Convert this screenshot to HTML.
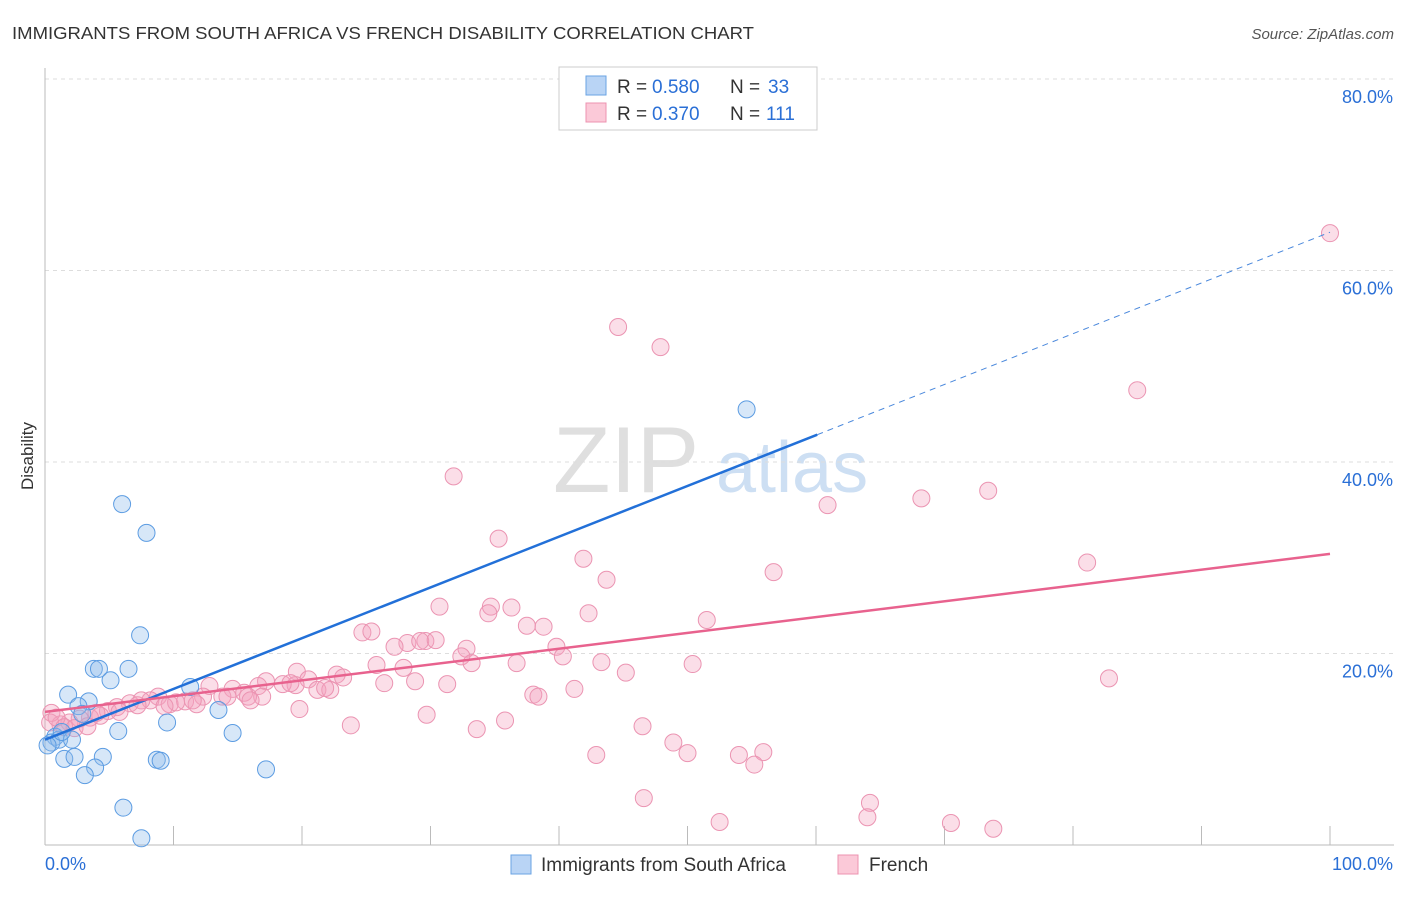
<!DOCTYPE html>
<html><head><meta charset="utf-8"><style>
body{margin:0;background:#fff;font-family:"Liberation Sans",sans-serif}
svg text{font-family:"Liberation Sans",sans-serif}
</style></head><body>
<svg id="c" width="1406" height="892">
<text x="12" y="39" font-size="17.5" fill="#333" textLength="742" lengthAdjust="spacingAndGlyphs">IMMIGRANTS FROM SOUTH AFRICA VS FRENCH DISABILITY CORRELATION CHART</text>
<text x="1394" y="39" font-size="15" fill="#555" font-style="italic" text-anchor="end">Source: ZipAtlas.com</text>
<text x="33" y="456" font-size="17" fill="#333" text-anchor="middle" transform="rotate(-90 33 456)">Disability</text>
<g opacity="0.9">
<text x="553" y="492" font-size="94" font-family="Liberation Serif,serif" fill="#dcdcdc">ZIP</text>
<text x="716" y="492" font-size="72" fill="#c8dcf2">atlas</text>
</g>
<g id="grid"></g><g id="marks"></g>
<g>
<rect x="559" y="67" width="258" height="63" fill="#fff" stroke="#ccc"/>
<rect x="586" y="76" width="20" height="19" fill="#b9d4f5" stroke="#6aa3e3"/>
<rect x="586" y="103" width="20" height="19" fill="#fbc9d8" stroke="#ec93b0"/>
<text x="617" y="93" font-size="19" fill="#333">R =</text>
<text x="652" y="93" font-size="19" fill="#2a6fd6">0.580</text>
<text x="730" y="93" font-size="19" fill="#333">N =</text>
<text x="768" y="93" font-size="19" fill="#2a6fd6">33</text>
<text x="617" y="120" font-size="19" fill="#333">R =</text>
<text x="652" y="120" font-size="19" fill="#2a6fd6">0.370</text>
<text x="730" y="120" font-size="19" fill="#333">N =</text>
<text x="766" y="120" font-size="19" fill="#2a6fd6">111</text>
</g>
<g>
<rect x="511" y="855" width="20" height="19" fill="#b9d4f5" stroke="#6aa3e3"/>
<text x="541" y="871" font-size="19" fill="#333">Immigrants from South Africa</text>
<rect x="838" y="855" width="20" height="19" fill="#fbc9d8" stroke="#ec93b0"/>
<text x="869" y="871" font-size="19" fill="#333">French</text>
</g>
</svg>
<script>
const yTicks=[20,40,60,80];
const yTickLabels=["20.0%","40.0%","60.0%","80.0%"];
const xTickLabels=["0.0%","100.0%"];
const blueX=[6.0,7.9,7.4,3.8,4.2,6.5,5.1,1.8,3.4,2.6,2.9,11.3,13.5,9.5,5.7,14.6,0.8,0.5,1.1,2.1,1.5,2.3,4.5,3.9,3.1,8.7,9.0,17.2,6.1,7.5,54.6,0.2,1.3];
const blueY=[35.6,32.6,21.9,18.4,18.4,18.4,17.2,15.7,15.0,14.5,13.7,16.5,14.1,12.8,11.9,11.7,11.3,10.7,11.0,11.0,9.0,9.2,9.2,8.1,7.3,8.9,8.8,7.9,3.9,0.7,45.5,10.4,11.8];
const pinkX=[100,44.6,47.9,85.0,31.8,60.9,68.2,73.4,35.3,41.9,43.7,56.7,81.1,30.7,34.7,34.5,36.3,42.3,51.5,37.5,38.8,24.7,25.4,28.2,29.6,27.2,29.2,30.4,32.8,39.8,32.4,33.2,40.3,36.7,43.3,50.4,82.8,45.2,25.8,27.9,19.6,22.7,23.2,20.5,17.2,19.5,18.5,16.6,14.6,12.8,13.8,21.2,22.2,15.5,16.9,12.3,31.3,28.8,26.4,41.2,38.0,38.4,19.8,29.7,35.8,23.8,33.6,46.5,42.9,48.9,50.0,55.9,54.0,55.2,46.6,64.2,52.5,64.0,70.5,73.8,8.8,8.2,6.6,7.5,9.7,10.9,11.8,10.2,9.3,5.6,4.9,4.3,3.5,2.7,1.9,1.2,0.5,0.4,0.9,1.5,2.3,3.3,4.0,5.8,7.2,11.5,15.8,14.2,19.1,21.8,16.0];
const pinkY=[63.9,54.1,52.0,47.5,38.5,35.5,36.2,37.0,32.0,29.9,27.7,28.5,29.5,24.9,24.9,24.2,24.8,24.2,23.5,22.9,22.8,22.2,22.3,21.1,21.3,20.7,21.3,21.4,20.5,20.7,19.7,19.0,19.7,19.0,19.1,18.9,17.4,18.0,18.8,18.5,18.1,17.8,17.5,17.3,17.1,16.7,16.8,16.6,16.3,16.6,15.5,16.2,16.2,15.9,15.5,15.5,16.8,17.1,16.9,16.3,15.7,15.5,14.2,13.6,13.0,12.5,12.1,12.4,9.4,10.7,9.6,9.7,9.4,8.4,4.9,4.4,2.4,2.9,2.3,1.7,15.5,15.1,14.8,15.1,14.7,15.0,14.7,14.9,14.5,14.4,14.0,13.5,13.3,13.2,12.8,12.6,13.8,12.8,13.3,12.3,12.2,12.4,13.8,13.9,14.6,15.1,15.5,15.5,16.9,16.4,15.1];
const blueTrend=[11.0,0.53];   // intercept, slope
const blueSolidEnd=60.1;
const pinkTrend=[13.9,0.165];
const NS="http://www.w3.org/2000/svg";
const X=v=>45+v*12.85, Y=v=>845-v*9.575;
function mk(t,a,p){const e=document.createElementNS(NS,t);for(const k in a)e.setAttribute(k,a[k]);p.appendChild(e);return e;}
const g=document.getElementById('grid'), m=document.getElementById('marks');
yTicks.forEach((t,i)=>{
 const l=mk('line',{x1:45,x2:1394,y1:Y(t),y2:Y(t),stroke:'#ddd','stroke-dasharray':'4,4'},g);
 
 
 const tx=mk('text',{x:1393,y:Y(t)+24,'font-size':18,fill:'#2a6fd6','text-anchor':'end'},g);tx.textContent=yTickLabels[i];
 
 
});
const ax=mk('line',{x1:45,x2:45,y1:68,y2:845,stroke:'#bbb'},g);


const bx=mk('line',{x1:45,x2:1394,y1:845,y2:845,stroke:'#bbb'},g);


for(let i=1;i<=10;i++){const t=mk('line',{x1:X(i*10),x2:X(i*10),y1:826,y2:845,stroke:'#bbb'},g);
 
 }
[[0,45,'start'],[100,1393,'end']].forEach(([v,x,a],i)=>{const t=mk('text',{x:x,y:870,'font-size':18,fill:'#2a6fd6','text-anchor':a},g);t.textContent=xTickLabels[i];
 
 });
pinkX.forEach((v,i)=>{const c=mk('circle',{cx:X(v),cy:Y(pinkY[i]),r:8.5,fill:'rgba(244,160,188,0.35)',stroke:'#eb94b2','stroke-width':1},m);
 
 });
blueX.forEach((v,i)=>{const c=mk('circle',{cx:X(v),cy:Y(blueY[i]),r:8.5,fill:'rgba(140,185,235,0.35)',stroke:'#5c9ce2','stroke-width':1},m);
 
 });
const f=(t,x)=>t[0]+t[1]*x;
let l=mk('line',{x1:X(0),y1:Y(f(blueTrend,0)),x2:X(blueSolidEnd),y2:Y(f(blueTrend,blueSolidEnd)),stroke:'#2270d8','stroke-width':2.5},m);


l=mk('line',{x1:X(blueSolidEnd),y1:Y(f(blueTrend,blueSolidEnd)),x2:X(100),y2:Y(f(blueTrend,100)),stroke:'#4a88dc','stroke-width':1,'stroke-dasharray':'6,5'},m);


l=mk('line',{x1:X(0),y1:Y(f(pinkTrend,0)),x2:X(100),y2:Y(f(pinkTrend,100)),stroke:'#e8628e','stroke-width':2.5},m);


</script>
</body></html>
